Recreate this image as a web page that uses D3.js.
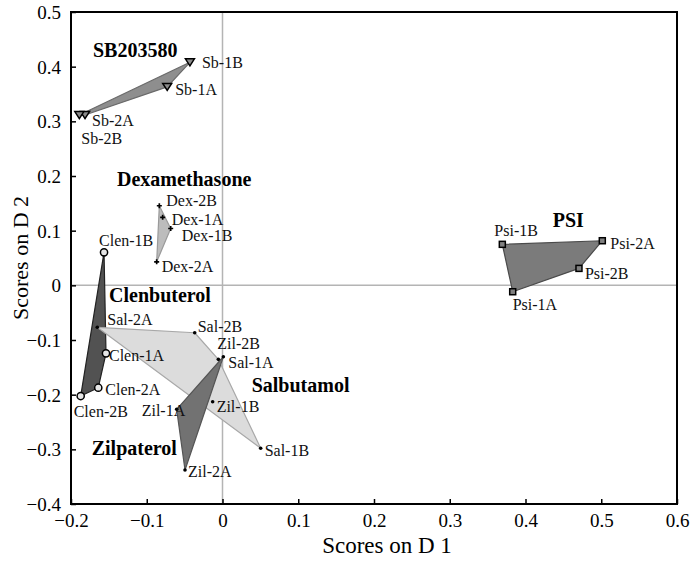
<!DOCTYPE html>
<html>
<head>
<meta charset="utf-8">
<script src="https://cdn.jsdelivr.net/npm/d3@7"></script>
<style>
  html, body { margin: 0; padding: 0; background: #fff; }
  svg { display: block; font-family: "Liberation Serif", "Times New Roman", serif; }
</style>
</head>
<body>
<svg id="chart" width="693" height="563"></svg>
<script>
// Discriminant scores for each sample (D1, D2)
const sampleNames = [
  "Sb-1A", "Sb-1B", "Sb-2A", "Sb-2B",
  "Dex-1A", "Dex-1B", "Dex-2A", "Dex-2B",
  "Clen-1A", "Clen-1B", "Clen-2A", "Clen-2B",
  "Sal-1A", "Sal-1B", "Sal-2A", "Sal-2B",
  "Zil-1A", "Zil-1B", "Zil-2A", "Zil-2B",
  "Psi-1A", "Psi-1B", "Psi-2A", "Psi-2B"
];
const scoreD1 = [
  -0.073, -0.043, -0.1815, -0.189,
  -0.079, -0.0684, -0.0869, -0.0834,
  -0.1538, -0.1564, -0.164, -0.1872,
  -0.0055, 0.0504, -0.1653, -0.0367,
  -0.0605, -0.013, -0.0495, 0.0011,
  0.3831, 0.3694, 0.5014, 0.4706
];
const scoreD2 = [
  0.363, 0.408, 0.3115, 0.3115,
  0.1244, 0.104, 0.043, 0.1456,
  -0.1244, 0.0604, -0.1873, -0.2025,
  -0.1354, -0.298, -0.0768, -0.0867,
  -0.2268, -0.2129, -0.3378, -0.1306,
  -0.0117, 0.075, 0.0816, 0.031
];
const sampleGroup = [
  "SB203580", "SB203580", "SB203580", "SB203580",
  "Dexamethasone", "Dexamethasone", "Dexamethasone", "Dexamethasone",
  "Clenbuterol", "Clenbuterol", "Clenbuterol", "Clenbuterol",
  "Salbutamol", "Salbutamol", "Salbutamol", "Salbutamol",
  "Zilpaterol", "Zilpaterol", "Zilpaterol", "Zilpaterol",
  "PSI", "PSI", "PSI", "PSI"
];

// Treatment groups, drawing order and the outline vertices of each group
const groups = ["SB203580", "Dexamethasone", "Clenbuterol", "Salbutamol", "Zilpaterol", "PSI"];
const groupOutline = {
  "SB203580": ["Sb-1B", "Sb-1A", "Sb-2A", "Sb-2B"],
  "Dexamethasone": ["Dex-2B", "Dex-1B", "Dex-2A"],
  "Clenbuterol": ["Clen-1B", "Clen-1A", "Clen-2A", "Clen-2B"],
  "Salbutamol": ["Sal-2A", "Sal-2B", "Sal-1A", "Sal-1B"],
  "Zilpaterol": ["Zil-2B", "Zil-2A", "Zil-1A"],
  "PSI": ["Psi-1B", "Psi-2A", "Psi-2B", "Psi-1A"]
};
// Where each group's name is written (data coordinates)
const groupLabelD1 = [-0.171, -0.1393, -0.1498, 0.0385, -0.1727, 0.4359];
const groupLabelD2 = [0.4176, 0.1816, -0.030, -0.1946, -0.3104, 0.1072];

// Axis ticks
const xTicks = [-0.2, -0.1, 0, 0.1, 0.2, 0.3, 0.4, 0.5, 0.6];
const yTicks = [-0.4, -0.3, -0.2, -0.1, 0, 0.1, 0.2, 0.3, 0.4, 0.5];
const xTitle = "Scores on D 1";
const yTitle = "Scores on D 2";

// ---- styling ----
const groupStyle = {
  "SB203580":      { fill: "#8e8e8e", stroke: "#6a6a6a", marker: "triangle" },
  "Dexamethasone": { fill: "#bcbcbc", stroke: "#9a9a9a", marker: "plus" },
  "Clenbuterol":   { fill: "#525252", stroke: "#222222", marker: "circle" },
  "Salbutamol":    { fill: "#dcdcdc", stroke: "#a8a8a8", marker: "dot" },
  "Zilpaterol":    { fill: "#727272", stroke: "#555555", marker: "dot" },
  "PSI":           { fill: "#7b7b7b", stroke: "#4a4a4a", marker: "square" }
};
// sample label placement relative to its marker (pixels)
const labelOffset = {
  "Sb-1A": [8, 8], "Sb-1B": [12, 6], "Sb-2A": [7, 11], "Sb-2B": [2, 29],
  "Dex-1A": [9, 8], "Dex-1B": [11, 13], "Dex-2A": [5, 10], "Dex-2B": [7, 0],
  "Clen-1A": [3, 8], "Clen-1B": [-5, -6], "Clen-2A": [7, 7], "Clen-2B": [-7, 21],
  "Sal-1A": [10, 9], "Sal-1B": [4, 8], "Sal-2A": [10, -2], "Sal-2B": [3, -1],
  "Zil-1A": [-35, 7], "Zil-1B": [4, 10], "Zil-2A": [3, 7], "Zil-2B": [-6, -8],
  "Psi-1A": [0, 18], "Psi-1B": [-8, -8], "Psi-2A": [8, 8], "Psi-2B": [6, 11]
};

const samples = sampleNames.map((n, i) => ({ name: n, d1: scoreD1[i], d2: scoreD2[i], group: sampleGroup[i] }));
const byName = new Map(samples.map(s => [s.name, s]));

const svg = d3.select("#chart");
const plotLeft = 71, plotRight = 677, plotTop = 12, plotBottom = 504;
const x = d3.scaleLinear().domain([-0.2, 0.6]).range([plotLeft, plotRight]);
const y = d3.scaleLinear().domain([-0.4, 0.5]).range([plotBottom, plotTop]);

// zero reference lines
svg.append("line").attr("x1", x(0)).attr("x2", x(0)).attr("y1", plotTop).attr("y2", plotBottom)
  .attr("stroke", "#b4b4b4").attr("stroke-width", 1.5);
svg.append("line").attr("x1", plotLeft).attr("x2", plotRight).attr("y1", y(0)).attr("y2", y(0))
  .attr("stroke", "#b4b4b4").attr("stroke-width", 1.5);

// group outlines
const line = d3.line().x(d => x(d.d1)).y(d => y(d.d2)).curve(d3.curveLinearClosed);
svg.append("g").selectAll("path").data(groups).join("path")
  .attr("d", g => line(groupOutline[g].map(n => byName.get(n))))
  .attr("fill", g => groupStyle[g].fill)
  .attr("stroke", g => groupStyle[g].stroke)
  .attr("stroke-width", 1.2)
  .attr("stroke-linejoin", "round");

// markers
const mk = svg.append("g");
samples.forEach(s => {
  const cx = x(s.d1), cy = y(s.d2);
  const m = groupStyle[s.group].marker;
  if (m === "triangle") {
    mk.append("path")
      .attr("d", `M${cx - 4.5},${cy - 3.5}L${cx + 4.5},${cy - 3.5}L${cx},${cy + 3.5}Z`)
      .attr("fill", "#8a8a8a").attr("stroke", "#000").attr("stroke-width", 1.5);
  } else if (m === "plus") {
    mk.append("path")
      .attr("d", d3.symbol(d3.symbolCross, 14)())
      .attr("transform", `translate(${cx},${cy})`)
      .attr("fill", "#000");
  } else if (m === "circle") {
    mk.append("circle").attr("cx", cx).attr("cy", cy).attr("r", 3.6)
      .attr("fill", "#e6e6e6").attr("stroke", "#000").attr("stroke-width", 1.5);
  } else if (m === "dot") {
    mk.append("circle").attr("cx", cx).attr("cy", cy).attr("r", 1.8).attr("fill", "#000");
  } else if (m === "square") {
    mk.append("rect").attr("x", cx - 3).attr("y", cy - 3).attr("width", 6).attr("height", 6)
      .attr("fill", "#808080").attr("stroke", "#000").attr("stroke-width", 1.5);
  }
});

// sample labels
svg.append("g").selectAll("text").data(samples).join("text")
  .attr("x", s => x(s.d1) + labelOffset[s.name][0])
  .attr("y", s => y(s.d2) + labelOffset[s.name][1])
  .attr("font-size", 16)
  .attr("fill", "#111")
  .text(s => s.name);

// group names
svg.append("g").selectAll("text").data(groups).join("text")
  .attr("x", (g, i) => x(groupLabelD1[i]))
  .attr("y", (g, i) => y(groupLabelD2[i]))
  .attr("font-size", 20)
  .attr("font-weight", "bold")
  .attr("fill", "#000")
  .text(g => g);

// axes
const fmt = d => d === 0 ? "0" : d3.format(".1f")(d);
const xAxis = svg.append("g").attr("transform", `translate(0,${plotBottom})`)
  .call(d3.axisBottom(x).tickValues(xTicks).tickFormat(fmt).tickSizeInner(-5).tickSizeOuter(0).tickPadding(10));
const yAxis = svg.append("g").attr("transform", `translate(${plotLeft},0)`)
  .call(d3.axisLeft(y).tickValues(yTicks).tickFormat(fmt).tickSizeInner(-5).tickSizeOuter(0).tickPadding(10));
[xAxis, yAxis].forEach(a => {
  a.select(".domain").remove();
  a.selectAll(".tick line").attr("stroke", "#000").attr("stroke-width", 1.5);
  a.selectAll(".tick text").attr("font-size", 19).attr("fill", "#000")
    .attr("font-family", "\"Liberation Serif\", \"Times New Roman\", serif");
});
xAxis.selectAll(".tick text").attr("dy", "0.71em");
yAxis.selectAll(".tick text").attr("dy", "0.35em");

// frame
svg.append("rect").attr("x", plotLeft).attr("y", plotTop)
  .attr("width", plotRight - plotLeft).attr("height", plotBottom - plotTop)
  .attr("fill", "none").attr("stroke", "#000").attr("stroke-width", 2);

// axis titles
svg.append("text").attr("x", 387).attr("y", 553).attr("text-anchor", "middle")
  .attr("font-size", 23).text(xTitle);
svg.append("text").attr("transform", `translate(28,${(plotTop + plotBottom) / 2}) rotate(-90)`)
  .attr("text-anchor", "middle").attr("font-size", 22).text(yTitle);
</script>
</body>
</html>
